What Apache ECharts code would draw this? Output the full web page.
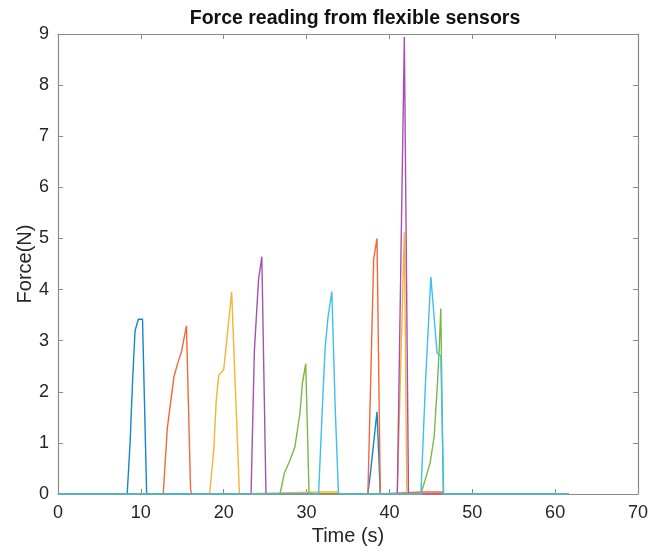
<!DOCTYPE html>
<html>
<head>
<meta charset="utf-8">
<script src="https://cdn.jsdelivr.net/npm/echarts@6/dist/echarts.min.js"></script>
<style>
  html, body { margin: 0; padding: 0; background: #fff; }
  #main { width: 651px; height: 554px; }
</style>
</head>
<body>
<div id="main"></div>
<script>
// sensor readings: time (s) and force (N) for each sensor trace
var t1 = [0, 8.35, 8.7, 9.0, 9.3, 9.7, 10.2, 10.7, 37.4, 37.7, 38.5, 38.9, 61.6];
var f1 = [0, 0, 1.0, 2.2, 3.2, 3.42, 3.42, 0, 0, 0.4, 1.61, 0, 0];

var t2 = [0, 12.7, 13.2, 14.0, 14.5, 14.9, 15.5, 16.0, 16.1, 37.4, 38.1, 38.5, 38.9, 43.9, 46.4, 46.6, 61.6];
var f2 = [0, 0, 1.3, 2.3, 2.59, 2.78, 3.29, 0.1, 0, 0, 4.6, 5.0, 0, 0.04, 0.04, 0, 0];

var t3 = [0, 18.3, 18.8, 19.1, 19.4, 20.0, 20.96, 21.9, 31.6, 33.8, 34.0, 40.95, 41.8, 42.1, 61.6];
var f3 = [0, 0, 0.86, 1.84, 2.33, 2.43, 3.95, 0, 0.04, 0.04, 0, 0, 5.13, 0, 0];

var t4 = [0, 23.3, 23.7, 24.2, 24.6, 25.1, 40.95, 41.8, 42.3, 61.6];
var f4 = [0, 0, 2.8, 4.19, 4.64, 0, 0, 8.94, 0, 0];

var t5 = [0, 26.8, 27.3, 28.0, 28.6, 29.2, 29.5, 29.9, 30.3, 43.8, 44.9, 45.4, 45.8, 46.0, 46.2, 46.5, 61.6];
var f5 = [0, 0, 0.4, 0.66, 0.93, 1.58, 2.17, 2.55, 0, 0, 0.6, 1.12, 2.17, 2.8, 3.63, 0, 0];

var t6 = [0, 31.45, 32.0, 32.25, 32.6, 33.05, 33.45, 33.85, 43.8, 44.35, 45.0, 45.75, 46.2, 46.55, 61.6];
var f6 = [0, 0, 2.03, 2.88, 3.47, 3.96, 1.71, 0, 0, 2.17, 4.25, 2.76, 2.7, 0, 0];

var traces = [[t1, f1], [t2, f2], [t3, f3], [t4, f4], [t5, f5], [t6, f6]];
var colors = ['#1486cc', '#f5673a', '#f5b431', '#a650b5', '#7cb745', '#3dbff0'];

var xTicks = [0, 10, 20, 30, 40, 50, 60, 70];
var yTicks = [0, 1, 2, 3, 4, 5, 6, 7, 8, 9];

function pairs(t, f) {
  var out = [];
  for (var i = 0; i < t.length; i++) out.push([t[i], f[i]]);
  return out;
}

var chart = echarts.init(document.getElementById('main'), null, { renderer: 'canvas' });

var font = 'Liberation Sans, Arial, sans-serif';
var axisGrey = '#8a8a8a';

var seriesList = [];
for (var k = 0; k < traces.length; k++) {
  seriesList.push({
    type: 'line',
    data: pairs(traces[k][0], traces[k][1]),
    showSymbol: false,
    lineStyle: { color: colors[k], width: 1.4 },
    itemStyle: { color: colors[k] },
    animation: false
  });
}

// box edges (top / right) without labels, like matlab's box on
function boxAxis(pos, max, step) {
  return {
    type: 'value', position: pos,
    min: 0, max: max, interval: step,
    axisLine: { show: true, onZero: false, lineStyle: { color: axisGrey, width: 1.2 } },
    axisTick: { show: true, inside: true, length: 5, lineStyle: { color: axisGrey } },
    axisLabel: { show: false },
    splitLine: { show: false }
  };
}

var option = {
  backgroundColor: '#fff',
  title: {
    text: 'Force reading from flexible sensors',
    left: 350,
    textAlign: 'center',
    top: 4,
    textStyle: { fontFamily: font, fontSize: 19.5, fontWeight: 'bold', color: '#111' }
  },
  grid: { left: 58, top: 34, right: 10, bottom: 60, containLabel: false },
  xAxis: [{
    type: 'value',
    min: xTicks[0], max: xTicks[xTicks.length - 1], interval: 10,
    name: 'Time (s)',
    nameLocation: 'middle',
    nameGap: 32,
    nameMoveOverlap: false,
    nameTextStyle: { fontFamily: font, fontSize: 20, color: '#262626' },
    axisLine: { show: true, onZero: false, lineStyle: { color: axisGrey, width: 1.2 } },
    axisTick: { show: true, inside: true, length: 5, lineStyle: { color: axisGrey } },
    axisLabel: { fontFamily: font, fontSize: 18, color: '#262626', margin: 10 },
    splitLine: { show: false }
  }, boxAxis('top', xTicks[xTicks.length - 1], 10)],
  yAxis: [{
    type: 'value',
    min: yTicks[0], max: yTicks[yTicks.length - 1], interval: 1,
    name: 'Force(N)',
    nameLocation: 'middle',
    nameGap: 23,
    nameMoveOverlap: false,
    nameTextStyle: { fontFamily: font, fontSize: 20, color: '#262626' },
    axisLine: { show: true, onZero: false, lineStyle: { color: axisGrey, width: 1.2 } },
    axisTick: { show: true, inside: true, length: 5, lineStyle: { color: axisGrey } },
    axisLabel: { fontFamily: font, fontSize: 18, color: '#262626', margin: 9 },
    splitLine: { show: false }
  }, boxAxis('right', yTicks[yTicks.length - 1], 1)],
  series: seriesList
};

chart.setOption(option);
</script>
</body>
</html>
